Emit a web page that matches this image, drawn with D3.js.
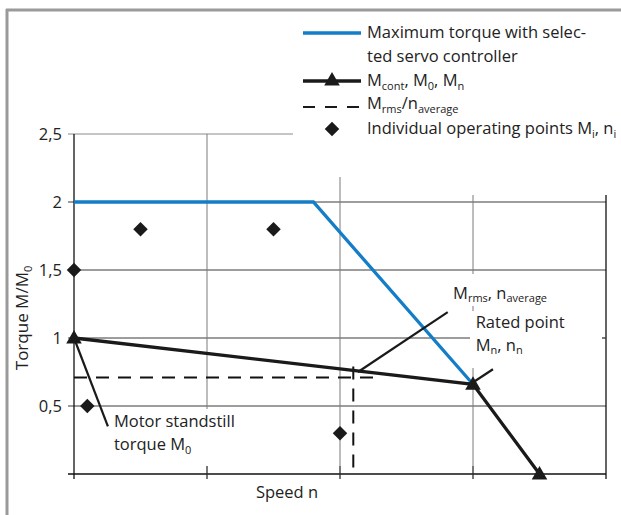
<!DOCTYPE html>
<html lang="en">
<head>
<meta charset="utf-8">
<title>Torque vs speed</title>
<script src="https://cdnjs.cloudflare.com/ajax/libs/d3/7.8.5/d3.min.js"></script>
<style>
  body { margin: 0; background: #fff; }
  svg text { font-family: "Open Sans", sans-serif; fill: #222; }
</style>
</head>
<body>
<script>

// Axis ticks
const speedTicks = [0, 1, 2, 3, 4];
const torqueTicks = [0, 0.5, 1, 1.5, 2, 2.5];
const torqueTickLabels = ["", "0,5", "1", "1,5", "2", "2,5"];

// Maximum torque with the selected servo controller (blue)
const maxSpeed = [0, 1.8, 3];
const maxTorque = [2.0, 2.0, 0.66];

// M_cont curve through M_0, M_n (black, triangles)
const contSpeed = [0, 3, 3.5];
const contTorque = [1.0, 0.66, 0];

// Individual operating points M_i, n_i
const opSpeed = [0, 0.5, 1.5, 0.1, 2.0];
const opTorque = [1.5, 1.8, 1.8, 0.5, 0.3];

// M_rms / n_average cross-hair
const rmsSpeed = 2.1;
const rmsTorque = 0.71;

const legendLabels = [
  ["Maximum torque with selec-", "ted servo controller"],
  ["M_{cont}, M_{0}, M_{n}"],
  ["M_{rms}/n_{average}"],
  ["Individual operating points M_{i}, n_{i}"]
];

const W = 621, H = 515;
const fontSize = 16.5;

const svg = d3.select("body").append("svg")
    .attr("width", W)
    .attr("height", H);

const x = d3.scaleLinear().domain([0, 4]).range([74, 606]);
const y = d3.scaleLinear().domain([0, 2.5]).range([474, 134]);

// writes "M_{rms}" style strings as text with subscripts
function richText(t, str) {
  const parts = str.split(/_\{([^}]*)\}/);
  let low = false;
  parts.forEach(function(p, i) {
    if (p === "") return;
    const isSub = i % 2 === 1;
    const ts = t.append("tspan").text(p);
    if (isSub) {
      ts.attr("font-size", 11).attr("dy", low ? 0 : 3.5);
      low = true;
    } else if (low) {
      ts.attr("dy", -3.5);
      low = false;
    }
  });
}

// grey frame around the figure
svg.append("line").attr("x1", 6).attr("x2", W).attr("y1", 10).attr("y2", 10)
   .attr("stroke", "#9a9a9a").attr("stroke-width", 3);
svg.append("line").attr("x1", 7).attr("x2", 7).attr("y1", 9).attr("y2", H)
   .attr("stroke", "#9a9a9a").attr("stroke-width", 3);

// grid
const grid = svg.append("g");
grid.selectAll("line.h")
  .data(torqueTicks.slice(1, -1))
  .enter().append("line")
    .attr("x1", x(0) - 6).attr("x2", x(4))
    .attr("y1", d => y(d)).attr("y2", d => y(d))
    .attr("stroke", "#3a3a3a").attr("stroke-width", 1);
grid.append("line")   // top line is lighter
    .attr("x1", x(0) - 6).attr("x2", x(4))
    .attr("y1", y(2.5)).attr("y2", y(2.5))
    .attr("stroke", "#8a8a8a");
grid.selectAll("line.v")
  .data(speedTicks.slice(1, -1))
  .enter().append("line")
    .attr("x1", d => x(d)).attr("x2", d => x(d))
    .attr("y1", y(2.5)).attr("y2", y(0) + 5)
    .attr("stroke", "#7a7a7a").attr("stroke-width", 1);

// white backgrounds behind legend and notes
const boxes = [
  [293, 13, 621, 177],
  [400, 177, 621, 195],
  [109, 409, 251, 466],
  [450, 274, 576, 306],
  [470, 311, 602, 368]
];
svg.selectAll("rect.bg")
  .data(boxes)
  .enter().append("rect")
    .attr("x", d => d[0]).attr("y", d => d[1])
    .attr("width", d => d[2] - d[0]).attr("height", d => d[3] - d[1])
    .attr("fill", "#fff");

// axes and right frame
svg.append("line").attr("x1", x(0)).attr("x2", x(0)).attr("y1", y(2.5)).attr("y2", y(0) + 5)
   .attr("stroke", "#111").attr("stroke-width", 1.3);
svg.append("line").attr("x1", x(0) - 6).attr("x2", x(4)).attr("y1", y(0)).attr("y2", y(0))
   .attr("stroke", "#111").attr("stroke-width", 1.3);
svg.append("line").attr("x1", x(4)).attr("x2", x(4)).attr("y1", 195).attr("y2", y(0) + 5)
   .attr("stroke", "#111").attr("stroke-width", 1.3);
svg.append("line").attr("x1", x(4) - 4).attr("x2", x(4)).attr("y1", y(1)).attr("y2", y(1))
   .attr("stroke", "#555");
svg.selectAll("line.xt")
  .data(speedTicks.slice(1, -1))
  .enter().append("line")
    .attr("x1", d => x(d)).attr("x2", d => x(d))
    .attr("y1", y(0) - 8).attr("y2", y(0) + 5)
    .attr("stroke", "#333");

// y tick labels
svg.selectAll("text.yl")
  .data(torqueTicks)
  .enter().append("text")
    .attr("x", x(0) - 12)
    .attr("y", d => y(d))
    .attr("dy", "0.36em")
    .attr("text-anchor", "end")
    .attr("font-size", fontSize)
    .text((d, i) => torqueTickLabels[i]);

// axis titles
richText(svg.append("text")
    .attr("transform", "translate(28,318) rotate(-90)")
    .attr("text-anchor", "middle")
    .attr("font-size", 17), "Torque M/M_{0}");
svg.append("text")
    .attr("x", 287).attr("y", 498)
    .attr("text-anchor", "middle")
    .attr("font-size", fontSize)
    .text("Speed n");

const line = d3.line().x(d => x(d[0])).y(d => y(d[1]));

// rms cross-hair (dashed)
svg.append("path")
    .attr("d", line([[0, rmsTorque], [2.3, rmsTorque]]))
    .attr("fill", "none").attr("stroke", "#111").attr("stroke-width", 2)
    .attr("stroke-dasharray", "13,9");
svg.append("path")
    .attr("d", line([[rmsSpeed, 0.79], [rmsSpeed, 0]]))
    .attr("fill", "none").attr("stroke", "#111").attr("stroke-width", 2)
    .attr("stroke-dasharray", "13,9");

// blue maximum torque line
svg.append("path")
    .attr("d", line(maxSpeed.map((s, i) => [s, maxTorque[i]])))
    .attr("fill", "none").attr("stroke", "#137ec7").attr("stroke-width", 3.3);

// black continuous torque line
const contPts = contSpeed.map((s, i) => [s, contTorque[i]]);
svg.append("path")
    .attr("d", line(contPts))
    .attr("fill", "none").attr("stroke", "#1a1a1a").attr("stroke-width", 3.3);

// leader lines for the notes
const leaders = [
  [[0, 1.0], [0.255, 0.35]],
  [[2.135, 0.75], [2.81, 1.19]],
  [[3.01, 0.68], [3.15, 0.77]]
];
svg.selectAll("path.lead")
  .data(leaders)
  .enter().append("path")
    .attr("d", d => line(d))
    .attr("stroke", "#1a1a1a").attr("stroke-width", 2.2);

const tri = d3.symbol().type(d3.symbolTriangle).size(105);
const dia = d3.symbol().type(d3.symbolSquare).size(105);

svg.selectAll("path.tri")
  .data(contPts)
  .enter().append("path")
    .attr("d", tri)
    .attr("transform", d => `translate(${x(d[0])},${y(d[1]) + 1})`)
    .attr("fill", "#1a1a1a");

svg.selectAll("path.op")
  .data(opSpeed.map((s, i) => [s, opTorque[i]]))
  .enter().append("path")
    .attr("d", dia)
    .attr("transform", d => `translate(${x(d[0])},${y(d[1])}) rotate(45)`)
    .attr("fill", "#1a1a1a");

// notes
const notes = [
  { n: 0.30, m: 0.345, lines: ["Motor standstill", "torque M_{0}"] },
  { n: 2.85, m: 1.287, lines: ["M_{rms}, n_{average}"] },
  { n: 3.02, m: 1.074, lines: ["Rated point", "M_{n}, n_{n}"] }
];
notes.forEach(function(nt) {
  nt.lines.forEach(function(str, i) {
    richText(svg.append("text")
        .attr("x", x(nt.n))
        .attr("y", y(nt.m) + i * 23)
        .attr("font-size", fontSize), str);
  });
});

// legend
const lg = svg.append("g");
const lx0 = 303, lx1 = 361, ltx = 367;
const rowY = [33, 81, 104, 129];
lg.append("line").attr("x1", lx0).attr("x2", lx1).attr("y1", rowY[0]).attr("y2", rowY[0])
  .attr("stroke", "#137ec7").attr("stroke-width", 3.3);
lg.append("line").attr("x1", lx0).attr("x2", lx1).attr("y1", rowY[1]).attr("y2", rowY[1])
  .attr("stroke", "#1a1a1a").attr("stroke-width", 3.3);
lg.append("path").attr("d", tri).attr("transform", `translate(${(lx0 + lx1) / 2},${rowY[1]})`)
  .attr("fill", "#1a1a1a");
lg.append("line").attr("x1", lx0).attr("x2", lx1).attr("y1", rowY[2] + 3).attr("y2", rowY[2] + 3)
  .attr("stroke", "#1a1a1a").attr("stroke-width", 2).attr("stroke-dasharray", "12,10");
lg.append("path").attr("d", dia).attr("transform", `translate(${(lx0 + lx1) / 2},${rowY[3]}) rotate(45)`)
  .attr("fill", "#1a1a1a");

legendLabels.forEach(function(rows, i) {
  rows.forEach(function(str, j) {
    richText(lg.append("text")
        .attr("x", ltx)
        .attr("y", rowY[i] + 5 + j * 24)
        .attr("font-size", fontSize), str);
  });
});

</script>
</body>
</html>
